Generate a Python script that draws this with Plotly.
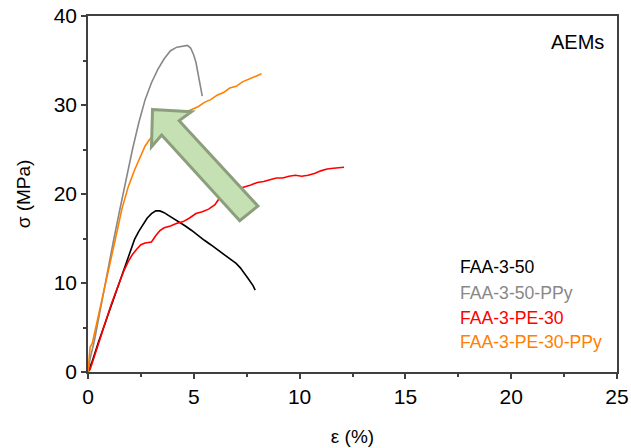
import plotly.graph_objects as go

# ---- data ----
series_names = ["FAA-3-50", "FAA-3-50-PPy", "FAA-3-PE-30", "FAA-3-PE-30-PPy"]
series_colors = ["#000000", "#888888", "#ff0000", "#ff8000"]

faa_eps = [0, 0.05, 0.2, 0.5, 0.8, 1.1, 1.4, 1.7, 2.0, 2.2, 2.4, 2.6, 2.8, 3.0, 3.2, 3.4,
           3.6, 3.8, 4.0, 4.3, 4.6, 4.9, 5.2, 5.5, 5.8, 6.1, 6.4, 6.7, 7.0, 7.2, 7.4, 7.6, 7.8, 7.9]
faa_sig = [0, 0.3, 1.2, 3.4, 5.4, 7.4, 9.6, 11.6, 13.6, 14.9, 15.8, 16.6, 17.3, 17.8, 18.1, 18.1,
           17.9, 17.6, 17.3, 16.9, 16.4, 15.9, 15.3, 14.8, 14.3, 13.8, 13.2, 12.7, 12.2, 11.7, 11.1, 10.4, 9.7, 9.2]

ppy_eps = [0, 0.1, 0.3, 0.6, 0.9, 1.2, 1.5, 1.8, 2.1, 2.4, 2.7, 3.0, 3.3, 3.6, 3.9, 4.2,
           4.5, 4.7, 4.85, 5.0, 5.1, 5.2, 5.3, 5.4]
ppy_sig = [0, 1.5, 3.5, 7.3, 11.0, 14.7, 18.2, 21.7, 25.0, 28.0, 30.6, 32.5, 34.0, 35.2, 36.1, 36.5,
           36.6, 36.7, 36.4, 35.6, 34.8, 33.6, 32.3, 31.0]

pe_eps = [0, 0.1, 0.2, 0.35, 0.5, 0.7, 0.9, 1.1, 1.3, 1.5, 1.7, 1.9, 2.1, 2.3, 2.5, 2.7, 2.9, 3.0,
          3.2, 3.4, 3.6, 3.9, 4.2, 4.5, 4.8, 5.1, 5.4, 5.7, 6.0, 6.2, 6.5, 6.8, 7.1, 7.4, 7.7, 8.0,
          8.3, 8.6, 8.9, 9.2, 9.5, 9.8, 10.1, 10.4, 10.7, 11.0, 11.3, 11.6, 11.9, 12.1]
pe_sig = [0, 0.3, 1.0, 2.0, 3.2, 4.7, 6.2, 7.6, 8.9, 10.2, 11.4, 12.4, 13.2, 13.8, 14.3, 14.5, 14.6, 14.6,
          15.3, 15.9, 16.2, 16.4, 16.7, 16.9, 17.3, 17.8, 18.0, 18.3, 18.8, 19.5, 19.9, 20.3, 20.6, 20.8, 21.0, 21.3,
          21.4, 21.6, 21.8, 21.8, 22.0, 22.1, 22.0, 22.1, 22.3, 22.6, 22.8, 22.9, 23.0, 23.0]

pepy_eps = [0, 0.05, 0.1, 0.2, 0.4, 0.7, 1.0, 1.3, 1.6, 1.9, 2.2, 2.5, 2.7, 2.9, 3.1, 3.4, 3.7, 4.0,
            4.3, 4.6, 4.9, 5.2, 5.5, 5.8, 6.1, 6.4, 6.7, 7.0, 7.3, 7.6, 7.9, 8.2]
pepy_sig = [0, 1.5, 2.8, 3.2, 5.3, 8.6, 11.9, 15.0, 18.3, 20.8, 22.7, 24.4, 25.4, 26.1, 26.6, 27.2, 27.8, 28.3,
            28.8, 29.2, 29.5, 29.8, 30.3, 30.6, 31.1, 31.4, 31.9, 32.1, 32.6, 32.9, 33.2, 33.5]

series_x = [faa_eps, ppy_eps, pe_eps, pepy_eps]
series_y = [faa_sig, ppy_sig, pe_sig, pepy_sig]

x_ticks = [0, 5, 10, 15, 20, 25]
y_ticks = [0, 10, 20, 30, 40]

FONT = "Arial, Liberation Sans, sans-serif"
AXIS_COLOR = "#404040"

fig = go.Figure()
for name, color, xs, ys in zip(series_names, series_colors, series_x, series_y):
    fig.add_trace(go.Scatter(x=xs, y=ys, mode="lines", name=name,
                             line=dict(color=color, width=1.6), showlegend=False))

# green arrow (drawn above the lines)
arrow_path = ("M 3.05,29.5 L 4.89,29.24 L 4.31,28.24 L 8.03,18.65 "
              "L 7.17,17.0 L 3.48,26.63 L 3.0,25.3 Z")
fig.add_shape(type="path", path=arrow_path, xref="x", yref="y",
              fillcolor="#c5e0b3", line=dict(color="#8c9e7e", width=3), layer="above")

# legend as coloured text
legend_y = [0.295, 0.222, 0.152, 0.084]
for name, color, yy in zip(series_names, series_colors, legend_y):
    fig.add_annotation(text=name, x=0.699, y=yy, xref="paper", yref="paper",
                       xanchor="left", yanchor="middle", showarrow=False,
                       font=dict(family=FONT, size=17.6, color=color))

fig.add_annotation(text="AEMs", x=0.979, y=0.927, xref="paper", yref="paper",
                   xanchor="right", yanchor="middle", showarrow=False,
                   font=dict(family=FONT, size=20, color="#000000"))

fig.update_layout(
    width=631, height=448,
    margin=dict(l=88, r=14, t=16, b=76, autoexpand=False),
    paper_bgcolor="white", plot_bgcolor="white",
    font=dict(family=FONT, size=20, color="#000000"),
)
fig.update_xaxes(range=[0, 25], tickvals=x_ticks, ticks="outside", ticklen=5, tickwidth=1.5,
                 tickcolor=AXIS_COLOR, showline=True, linecolor=AXIS_COLOR, linewidth=1.5,
                 mirror=True, showgrid=False, zeroline=False, automargin=False,
                 minor=dict(dtick=2.5, ticks="outside", ticklen=3, tickcolor=AXIS_COLOR, tickwidth=1.5),
                 title=dict(text="ε (%)", font=dict(size=19), standoff=23),
                 tickfont=dict(size=21))
fig.update_yaxes(range=[0, 40], tickvals=y_ticks, ticks="outside", ticklen=5, tickwidth=1.5,
                 tickcolor=AXIS_COLOR, showline=True, linecolor=AXIS_COLOR, linewidth=1.5,
                 mirror=True, showgrid=False, zeroline=False, automargin=False,
                 minor=dict(dtick=5, ticks="outside", ticklen=3, tickcolor=AXIS_COLOR, tickwidth=1.5),
                 title=dict(text="σ (MPa)", font=dict(size=19), standoff=18),
                 tickfont=dict(size=21))

fig.write_html("out.html", config={"displayModeBar": False},
               post_script="document.body.style.margin='0px';document.body.style.padding='0px';")
